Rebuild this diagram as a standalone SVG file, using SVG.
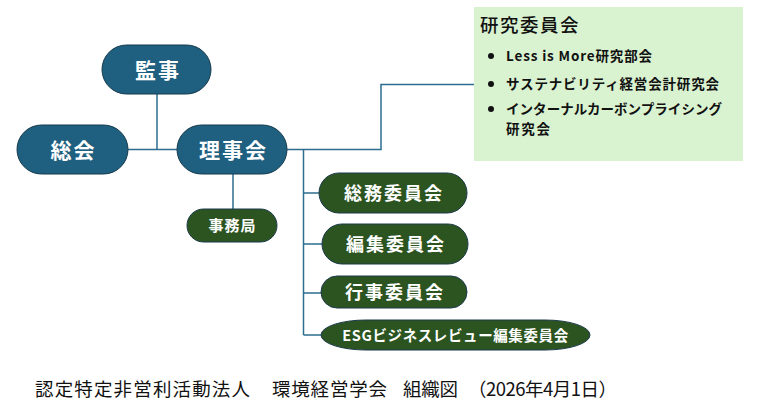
<svg xmlns="http://www.w3.org/2000/svg" width="757" height="413" viewBox="0 0 757 413">
<style>
.blue{fill:#1f5f7f;stroke:#153a4c;stroke-width:1}
.green{fill:#2b5421;stroke:#1c3a4a;stroke-width:1}
.lbl{font-family:"Noto Sans CJK JP","Noto Sans",sans-serif;font-weight:bold;fill:#ffffff;text-anchor:middle}
.conn{fill:none;stroke:#2c6d90;stroke-width:1.5}
.jp{font-family:"Noto Sans CJK JP","Noto Sans",sans-serif;fill:#111111}
</style>
<g id="connectors">
<path class="conn" d="M157 94 V149.5 M128 149.5 H177"/>
<path class="conn" d="M233 174 V209"/>
<path class="conn" d="M287 149.5 H381 V84.5 H474"/>
<path class="conn" d="M303.5 149.5 V335 M303.5 193 H319 M303.5 244 H322 M303.5 293 H321 M303.5 335 H321"/>
</g>
<g id="kanji">
<rect class="blue" x="102" y="45" width="109" height="49" rx="24.5"/>
<text class="lbl" x="158" y="78" font-size="21" letter-spacing="2">監事</text>
</g>
<g id="soukai">
<rect class="blue" x="17" y="125" width="111" height="49" rx="24.5"/>
<text class="lbl" x="73.5" y="158" font-size="21" letter-spacing="2">総会</text>
</g>
<g id="rijikai">
<rect class="blue" x="177" y="125" width="110" height="49" rx="24.5"/>
<text class="lbl" x="233.5" y="158" font-size="21" letter-spacing="2">理事会</text>
</g>
<g id="jimukyoku">
<rect class="green" x="187" y="209" width="90" height="33" rx="16.5"/>
<text class="lbl" x="232.5" y="231" font-size="15" letter-spacing="1">事務局</text>
</g>
<g id="soumu">
<rect class="green" x="319" y="173" width="148" height="40" rx="20"/>
<text class="lbl" x="394" y="199.5" font-size="18" letter-spacing="2">総務委員会</text>
</g>
<g id="henshu">
<rect class="green" x="322" y="224" width="146" height="40" rx="20"/>
<text class="lbl" x="396" y="250.5" font-size="18" letter-spacing="2">編集委員会</text>
</g>
<g id="gyouji">
<rect class="green" x="321" y="276" width="146" height="32" rx="16"/>
<text class="lbl" x="395" y="298.5" font-size="18" letter-spacing="2">行事委員会</text>
</g>
<g id="esg">
<rect class="green" x="321" y="320" width="269" height="30" rx="45" ry="15"/>
<text class="lbl" x="455.5" y="340.5" font-size="14.5" letter-spacing="0.6">ESGビジネスレビュー編集委員会</text>
</g>
<g id="kenkyu">
<rect x="474" y="7" width="269" height="154" fill="#d9f2d0"/>
<text class="jp" x="480" y="32" font-size="18.5" letter-spacing="1.5" font-weight="500">研究委員会</text>
<g font-size="13.5" font-weight="bold">
<circle cx="491" cy="56" r="3" fill="#111"/>
<text class="jp" x="506" y="61" textLength="146" lengthAdjust="spacing">Less is More研究部会</text>
<circle cx="491" cy="84" r="3" fill="#111"/>
<text class="jp" x="506" y="89" textLength="213" lengthAdjust="spacing">サステナビリティ経営会計研究会</text>
<circle cx="491" cy="109" r="3" fill="#111"/>
<text class="jp" x="506" y="114" textLength="216" lengthAdjust="spacing">インターナルカーボンプライシング</text>
<text class="jp" x="506" y="134" textLength="44" lengthAdjust="spacing">研究会</text>
</g>
</g>
<text class="jp" y="396" font-size="18.5"><tspan x="35" textLength="215" lengthAdjust="spacing">認定特定非営利活動法人</tspan><tspan x="272" textLength="115" lengthAdjust="spacing">環境経営学会</tspan><tspan x="403" textLength="55" lengthAdjust="spacing">組織図</tspan><tspan x="468" textLength="149" lengthAdjust="spacing">（2026年4月1日）</tspan></text>
</svg>
